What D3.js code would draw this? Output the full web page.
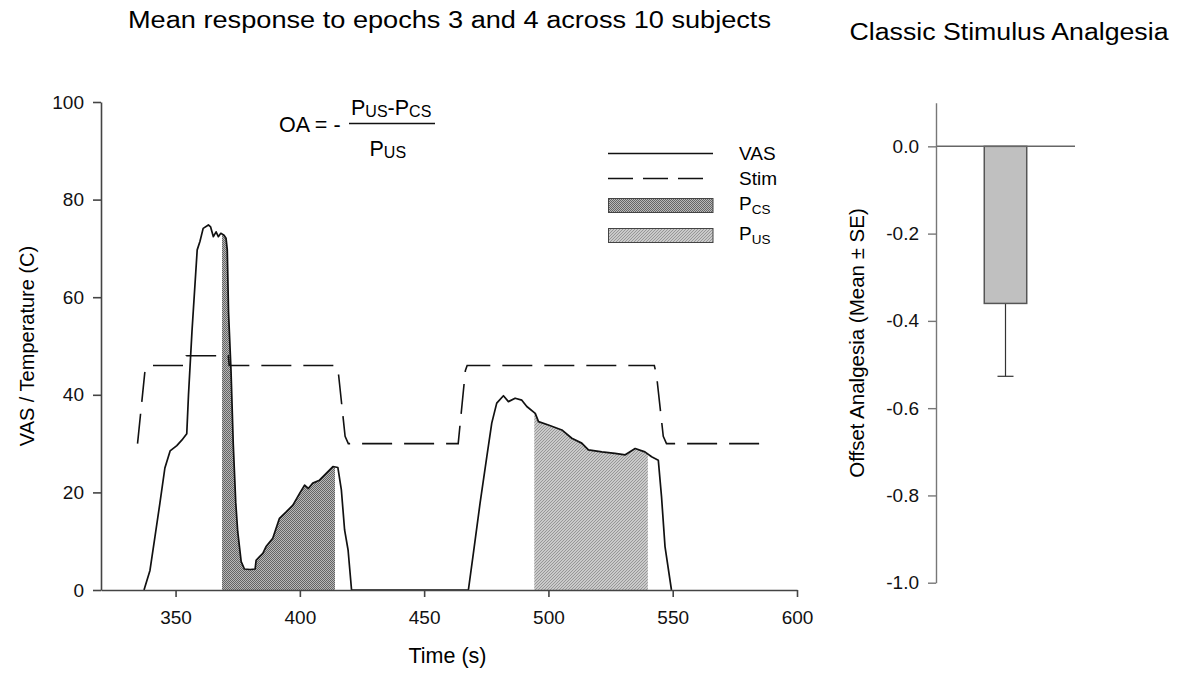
<!DOCTYPE html>
<html>
<head>
<meta charset="utf-8">
<script src="https://cdn.jsdelivr.net/npm/d3@7"></script>
<style>
  body { margin: 0; background: #fff; }
  svg { font-family: "Liberation Sans", Arial, sans-serif; }
</style>
</head>
<body>
<div id="grafico"></div>
<script>
// Mean VAS curve
const vasTime = [337.3, 339.7, 341.7, 343.7, 345.7, 347.8, 350.5, 352.5, 354.5, 355.2, 356.6, 358.7, 359.8,
  361.1, 363.2, 364.1, 365.2, 366.3, 367.2, 368.2, 369.5, 370.3, 370.8, 371.3, 372.3, 373.2, 374.2, 375.0,
  376.4, 377.7, 380.0, 382.0, 382.4, 383.7, 385.1, 386.4, 389.1, 391.8, 394.5, 397.2, 399.9, 401.9, 403.4,
  405.2, 407.9, 410.6, 413.3, 415.3, 416.7, 418.0, 419.4, 420.8,
  467.8, 469.8, 472.5, 475.2, 477.2, 479.2, 481.9, 483.9, 486.6, 489.3, 491.3, 494.7, 496.0, 500.0, 505.4,
  509.4, 513.4, 516.1, 521.5, 526.8, 530.9, 534.9, 538.8, 541.5, 544.2, 545.5, 546.9, 549.5];
const vasValue = [0, 4, 10.9, 17.8, 25, 28.5, 29.6, 30.7, 32, 40, 53, 69.7, 71.4,
  74.1, 74.8, 74.4, 72.4, 73.4, 72.4, 73.1, 72.7, 72.1, 69.7, 57, 45, 30, 18, 12,
  5.8, 4.3, 4.2, 4.3, 6.1, 6.8, 7.5, 8.9, 10.6, 14.7, 16, 17.4, 19.8, 21.5, 20.8,
  21.9, 22.5, 23.9, 25.3, 25.1, 20.5, 12.3, 8.2, 0,
  0, 7.5, 17.8, 27.3, 34.2, 38.3, 39.8, 38.6, 39.3, 38.9, 37.6, 36.2, 34.5, 33.8, 32.8,
  31.1, 30.1, 28.7, 28.3, 28.0, 27.7, 29.0, 28.3, 27.3, 26.6, 19.1, 8.9, 0];

// Stimulus temperature
const stimTime = [334.7, 337.6, 338.5, 339.7, 353.9, 354.3, 371.2, 371.6, 414.6, 415.6, 418.2, 419.5,
  463.7, 466.6, 467.3, 542.6, 543.5, 546.2, 547.5, 587.0];
const stimValue = [30, 44.5, 45.8, 46, 46, 48, 48, 46, 46, 44, 31.5, 30,
  30, 45, 46, 46, 44, 31.5, 30, 30];

// shaded windows
const pcsWindow = [368.7, 414.1];
const pusWindow = [494.3, 540.0];

const xTicks = [350, 400, 450, 500, 550, 600];
const yTicks = [0, 20, 40, 60, 80, 100];

// right panel
const oaCategories = ["Classic"];
const oaMean = [-0.36];
const oaSE = [0.167];
const oaTicks = [0.0, -0.2, -0.4, -0.6, -0.8, -1.0];

const width = 1181;
const height = 673;

const svg = d3.select("#grafico")
  .append("svg")
  .attr("width", width)
  .attr("height", height);

// patterns for the two shaded areas
const defs = svg.append("defs");
const pcsPat = defs.append("pattern")
  .attr("id", "pcs").attr("patternUnits", "userSpaceOnUse")
  .attr("width", 2).attr("height", 2);
pcsPat.append("rect").attr("width", 2).attr("height", 2).attr("fill", "#b8b8b8");
pcsPat.append("rect").attr("width", 1).attr("height", 1).attr("fill", "#646464");
pcsPat.append("rect").attr("x", 1).attr("y", 1).attr("width", 1).attr("height", 1).attr("fill", "#646464");

const pusPat = defs.append("pattern")
  .attr("id", "pus").attr("patternUnits", "userSpaceOnUse")
  .attr("width", 3).attr("height", 3);
pusPat.append("rect").attr("width", 3).attr("height", 3).attr("fill", "#cacaca");
pusPat.append("path").attr("d", "M-1,1 l2,-2 M0,3 l3,-3 M2,4 l2,-2")
  .attr("stroke", "#8a8a8a").attr("stroke-width", 0.8);

// ---------- left panel ----------
const x = d3.scaleLinear().domain([320, 600]).range([101, 797]);
const y = d3.scaleLinear().domain([0, 100]).range([590, 102]);

const vas = vasTime.map((t, i) => ({ t: t, v: vasValue[i] }));
const stim = stimTime.map((t, i) => ({ t: t, v: stimValue[i] }));

const area = d3.area().x(d => x(d.t)).y0(y(0)).y1(d => y(d.v));
const line = d3.line().x(d => x(d.t)).y(d => y(d.v));

[["pcs", pcsWindow], ["pus", pusWindow]].forEach(([id, w]) => {
  defs.append("clipPath").attr("id", "clip-" + id)
    .append("rect")
    .attr("x", x(w[0])).attr("width", x(w[1]) - x(w[0]))
    .attr("y", y(100)).attr("height", y(0) - y(100));
  svg.append("path")
    .datum(vas)
    .attr("d", area)
    .attr("fill", "url(#" + id + ")")
    .attr("clip-path", "url(#clip-" + id + ")");
});

svg.append("path")
  .datum(stim)
  .attr("d", line)
  .attr("fill", "none")
  .attr("stroke", "#111")
  .attr("stroke-width", 1.6)
  .attr("stroke-dasharray", "30,12");

svg.append("path")
  .datum(vas)
  .attr("d", line)
  .attr("fill", "none")
  .attr("stroke", "#111")
  .attr("stroke-width", 1.7)
  .attr("stroke-linejoin", "round");

// axes
const gx = svg.append("g")
  .attr("transform", `translate(0,${y(0)})`)
  .call(d3.axisBottom(x).tickValues(xTicks).tickSize(7).tickPadding(14).tickSizeOuter(0));
const gy = svg.append("g")
  .attr("transform", `translate(${x(320)},0)`)
  .call(d3.axisLeft(y).tickValues(yTicks).tickSize(8).tickPadding(9).tickSizeOuter(0));
[gx, gy].forEach(g => {
  g.attr("font-family", null).attr("font-size", 19);
  g.selectAll("path, line").attr("stroke", "#444").attr("stroke-width", 1.6);
  g.selectAll("text").attr("fill", "#111");
});

svg.append("text")
  .attr("x", 447.5).attr("y", 663)
  .attr("text-anchor", "middle")
  .style("font-size", "21.5px")
  .text("Time (s)");

svg.append("text")
  .attr("transform", "translate(34,346) rotate(-90)")
  .attr("text-anchor", "middle")
  .style("font-size", "20px")
  .text("VAS / Temperature (C)");

// formula
const formula = svg.append("g").style("font-size", "21.5px");
formula.append("text").attr("x", 279).attr("y", 132).text("OA = -");
formula.append("line").attr("x1", 349).attr("x2", 435).attr("y1", 123.5).attr("y2", 123.5)
  .attr("stroke", "#111").attr("stroke-width", 1.5);
const num = formula.append("text").attr("x", 351).attr("y", 115);
num.append("tspan").text("P");
num.append("tspan").attr("dy", 2).style("font-size", "16px").text("US");
num.append("tspan").attr("dy", -2).text("-P");
num.append("tspan").attr("dy", 2).style("font-size", "16px").text("CS");
const den = formula.append("text").attr("x", 369.5).attr("y", 156);
den.append("tspan").text("P");
den.append("tspan").attr("dy", 2).style("font-size", "16px").text("US");

// legend
const legend = svg.append("g").style("font-size", "19px");
legend.append("line").attr("x1", 608).attr("x2", 713).attr("y1", 153.5).attr("y2", 153.5)
  .attr("stroke", "#111").attr("stroke-width", 1.6);
legend.append("line").attr("x1", 608).attr("x2", 713).attr("y1", 178.5).attr("y2", 178.5)
  .attr("stroke", "#111").attr("stroke-width", 1.6).attr("stroke-dasharray", "25,10");
legend.append("rect").attr("x", 608.5).attr("y", 198.5).attr("width", 104.5).attr("height", 14)
  .attr("fill", "url(#pcs)").attr("stroke", "#444").attr("stroke-width", 1);
legend.append("rect").attr("x", 608.5).attr("y", 228.5).attr("width", 104.5).attr("height", 14)
  .attr("fill", "url(#pus)").attr("stroke", "#444").attr("stroke-width", 1);
legend.append("text").attr("x", 739).attr("y", 160).text("VAS");
legend.append("text").attr("x", 739).attr("y", 185).text("Stim");
const lp1 = legend.append("text").attr("x", 739).attr("y", 210);
lp1.append("tspan").text("P");
lp1.append("tspan").attr("dy", 4).style("font-size", "13.5px").text("CS");
const lp2 = legend.append("text").attr("x", 739).attr("y", 239.5);
lp2.append("tspan").text("P");
lp2.append("tspan").attr("dy", 4.5).style("font-size", "13.5px").text("US");

// title
svg.append("text")
  .attr("x", 128).attr("y", 28)
  .attr("textLength", 643).attr("lengthAdjust", "spacingAndGlyphs")
  .style("font-size", "23px")
  .text("Mean response to epochs 3 and 4 across 10 subjects");

// ---------- right panel ----------
const xb = d3.scaleBand().domain(oaCategories).range([936, 1075]).padding(0.532);
const yb = d3.scaleLinear().domain([-1.0, 0.1]).range([582.7, 102.7]);

const oa = oaCategories.map((c, i) => ({ c: c, m: oaMean[i], se: oaSE[i] }));

// error bar (drawn below the bar)
svg.selectAll(".err")
  .data(oa).enter()
  .append("line")
  .attr("x1", d => xb(d.c) + xb.bandwidth() / 2)
  .attr("x2", d => xb(d.c) + xb.bandwidth() / 2)
  .attr("y1", d => yb(d.m))
  .attr("y2", d => yb(d.m - d.se))
  .attr("stroke", "#333").attr("stroke-width", 1.2);
svg.selectAll(".cap")
  .data(oa).enter()
  .append("line")
  .attr("x1", d => xb(d.c) + xb.bandwidth() / 2 - 8)
  .attr("x2", d => xb(d.c) + xb.bandwidth() / 2 + 8)
  .attr("y1", d => yb(d.m - d.se))
  .attr("y2", d => yb(d.m - d.se))
  .attr("stroke", "#333").attr("stroke-width", 1.2);

svg.selectAll(".bar")
  .data(oa).enter()
  .append("rect")
  .attr("x", d => xb(d.c))
  .attr("y", yb(0))
  .attr("width", xb.bandwidth())
  .attr("height", d => yb(d.m) - yb(0))
  .attr("fill", "#c0c0c0")
  .attr("stroke", "#555")
  .attr("stroke-width", 1.5);

// zero line
svg.append("line")
  .attr("x1", 936).attr("x2", 1075)
  .attr("y1", yb(0)).attr("y2", yb(0))
  .attr("stroke", "#666").attr("stroke-width", 1.5);

const gb = svg.append("g")
  .attr("transform", "translate(936,0)")
  .call(d3.axisLeft(yb).tickValues(oaTicks).tickFormat(d => d.toFixed(1))
    .tickSize(8).tickPadding(9).tickSizeOuter(0));
gb.attr("font-family", null).attr("font-size", 19);
gb.selectAll("path, line").attr("stroke", "#777").attr("stroke-width", 1.4);
gb.selectAll("text").attr("fill", "#111");

svg.append("text")
  .attr("transform", "translate(864,343) rotate(-90)")
  .attr("text-anchor", "middle")
  .style("font-size", "20.5px")
  .text("Offset Analgesia (Mean ± SE)");

svg.append("text")
  .attr("x", 849.5).attr("y", 40)
  .attr("textLength", 319).attr("lengthAdjust", "spacingAndGlyphs")
  .style("font-size", "23px")
  .text("Classic Stimulus Analgesia");
</script>
</body>
</html>
